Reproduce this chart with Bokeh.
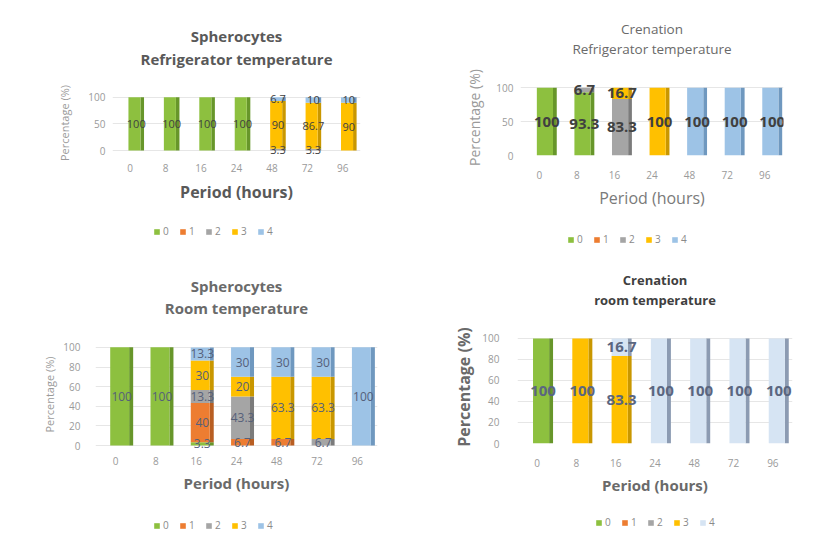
from jinja2 import Template
from bokeh.plotting import figure
from bokeh.models import ColumnDataSource, Range1d, Title, Legend, LegendItem, FactorRange
from bokeh.transform import dodge
from bokeh.core.properties import value
from bokeh.embed import file_html
from bokeh.resources import INLINE

# ---------------- data ----------------
periods = ["0", "8", "16", "24", "48", "72", "96"]
grades = ["0", "1", "2", "3", "4"]
yticks_50 = [0, 50, 100]
yticks_20 = [0, 20, 40, 60, 80, 100]

# Spherocytes - refrigerator temperature
sph_ref_g0 = [100, 100, 100, 100, 0, 0, 0]
sph_ref_g1 = [0, 0, 0, 0, 0, 0, 0]
sph_ref_g2 = [0, 0, 0, 0, 3.3, 3.3, 0]
sph_ref_g3 = [0, 0, 0, 0, 90, 86.7, 90]
sph_ref_g4 = [0, 0, 0, 0, 6.7, 10, 10]

# Crenation - refrigerator temperature
cre_ref_g0 = [100, 93.3, 0, 0, 0, 0, 0]
cre_ref_g1 = [0, 0, 0, 0, 0, 0, 0]
cre_ref_g2 = [0, 6.7, 83.3, 0, 0, 0, 0]
cre_ref_g3 = [0, 0, 16.7, 100, 0, 0, 0]
cre_ref_g4 = [0, 0, 0, 0, 100, 100, 100]

# Spherocytes - room temperature
sph_room_g0 = [100, 100, 3.3, 0, 0, 0, 0]
sph_room_g1 = [0, 0, 40, 6.7, 6.7, 0, 0]
sph_room_g2 = [0, 0, 13.3, 43.3, 0, 6.7, 0]
sph_room_g3 = [0, 0, 30, 20, 63.3, 63.3, 0]
sph_room_g4 = [0, 0, 13.3, 30, 30, 30, 100]

# Crenation - room temperature
cre_room_g0 = [100, 0, 0, 0, 0, 0, 0]
cre_room_g1 = [0, 0, 0, 0, 0, 0, 0]
cre_room_g2 = [0, 0, 0, 0, 0, 0, 0]
cre_room_g3 = [0, 100, 83.3, 0, 0, 0, 0]
cre_room_g4 = [0, 0, 16.7, 100, 100, 100, 100]

FONT = "Open Sans"
colors_a = ["#8DC03F", "#ED7D31", "#A5A5A5", "#FFC000", "#9DC3E6"]
sides_a = ["#67962A", "#B85E22", "#7B7B7B", "#C99700", "#6F98BF"]
colors_b = ["#8DC03F", "#ED7D31", "#A5A5A5", "#FFC000", "#D6E4F3"]
sides_b = ["#67962A", "#B85E22", "#7B7B7B", "#C99700", "#8C9BB2"]


def make_source(series):
    data = {"period": periods}
    for g, vals in zip(grades, series):
        data[g] = vals
    return ColumnDataSource(data)


def make_chart(name, t1, t2, series, yticks, cfg):
    w, h = cfg["w"], cfg["h"]
    p = figure(name=name, x_range=FactorRange(*periods),
               y_range=Range1d(cfg["ymin"], cfg["ymax"]),
               frame_width=cfg["fr"] - cfg["fl"], frame_height=cfg["fb"] - cfg["ft"],
               output_backend="svg", toolbar_location=None, tools="", title=None,
               min_border_left=cfg["fl"], min_border_right=w - cfg["fr"],
               min_border_top=cfg["ft"], min_border_bottom=h - cfg["fb"])
    p.x_range.range_padding = 0
    p.outline_line_color = None
    p.background_fill_color = "white"
    p.border_fill_color = "white"

    spacer = Title(text=" ", text_font_size="1px", standoff=cfg["sp"])
    tt2 = Title(text=t2, align="center", text_font=FONT, text_font_size=cfg["tsize"],
                text_font_style=cfg["tstyle"], text_color=cfg["tcolor"], standoff=cfg["ts2"])
    tt1 = Title(text=t1, align="center", text_font=FONT, text_font_size=cfg["tsize"],
                text_font_style=cfg["tstyle"], text_color=cfg["tcolor"], standoff=0)
    p.add_layout(spacer, "above")
    p.add_layout(tt2, "above")
    p.add_layout(tt1, "above")

    src = make_source(series)
    bw, sw, bo = cfg["bw"], cfg["sw"], cfg["bo"]
    p.vbar_stack(grades, x=dodge("period", bo + bw / 2 + sw / 2, range=p.x_range), width=sw,
                 source=src, color=cfg["sides"], line_color=None)
    p.vbar_stack(grades, x=dodge("period", bo, range=p.x_range), width=bw, source=src,
                 color=cfg["colors"], line_color=None)

    lx, ly, lt = [], [], []
    for i, per in enumerate(periods):
        base = 0.0
        for vals in series:
            v = vals[i]
            if v > 0:
                lx.append(per)
                ly.append(base + v / 2)
                lt.append(f"{v:g}")
            base += v
    lsrc = ColumnDataSource(dict(x=lx, y=ly, text=lt))
    p.text(x=dodge("x", bo + sw / 2, range=p.x_range), y="y", text="text", source=lsrc,
           text_align="center", text_baseline="middle", text_font=value(FONT),
           text_font_size=cfg["lsize"], text_font_style=cfg["lstyle"],
           text_color=cfg["lcolor"])

    p.yaxis.ticker = yticks
    p.yaxis.axis_line_color = None
    p.yaxis.major_tick_line_color = None
    p.yaxis.minor_tick_line_color = None
    p.yaxis.major_label_text_font = FONT
    p.yaxis.major_label_text_font_size = "10px"
    p.yaxis.major_label_text_color = "#9a9a9a"
    p.yaxis.major_label_standoff = cfg["yls"]
    p.yaxis.axis_label = "Percentage (%)"
    p.yaxis.axis_label_text_font = FONT
    p.yaxis.axis_label_text_font_size = cfg["ylsize"]
    p.yaxis.axis_label_text_font_style = cfg["ylstyle"]
    p.yaxis.axis_label_text_color = cfg["ylcolor"]
    p.yaxis.axis_label_standoff = cfg["yas"]

    p.xaxis.axis_line_color = None
    p.xaxis.major_tick_line_color = None
    p.xaxis.minor_tick_line_color = None
    p.xaxis.major_label_text_font = FONT
    p.xaxis.major_label_text_font_size = "10px"
    p.xaxis.major_label_text_color = "#9a9a9a"
    p.xaxis.major_label_standoff = cfg["xls"]
    p.xaxis.axis_label = "Period (hours)"
    p.xaxis.axis_label_text_font = FONT
    p.xaxis.axis_label_text_font_size = cfg["xlsize"]
    p.xaxis.axis_label_text_font_style = cfg["xlstyle"]
    p.xaxis.axis_label_text_color = cfg["xlcolor"]
    p.xaxis.axis_label_standoff = cfg["xas"]

    p.xgrid.grid_line_color = None
    p.ygrid.grid_line_color = "#e6e6e6"
    return p


def make_legend(name, series, cfg):
    L = cfg["L"]
    lf = figure(name=name, x_range=FactorRange(*periods), y_range=Range1d(200, 300),
                width=cfg["w"], height=L, output_backend="svg", toolbar_location=None,
                tools="", title=None, x_axis_location=None, y_axis_location=None,
                min_border=0)
    lf.outline_line_color = None
    lf.xgrid.grid_line_color = None
    lf.ygrid.grid_line_color = None
    lf.border_fill_color = "white"
    src = make_source(series)
    rs = lf.vbar_stack(grades, x="period", width=0.4, source=src,
                       color=cfg["colors"], line_color=None)
    items = [LegendItem(label=g, renderers=[r]) for g, r in zip(grades, rs)]
    leg = Legend(items=items, orientation="horizontal", location=(cfg["lx"], L - 20),
                 glyph_width=7, glyph_height=7, label_width=6, label_height=10,
                 label_text_font=FONT, label_text_font_size="10px",
                 label_text_color="#8a8a8a", label_standoff=3, spacing=10,
                 padding=4, margin=0, border_line_color=None,
                 background_fill_alpha=0)
    lf.add_layout(leg, "center")
    return lf


base = dict(w=414, sw=0.1, lstyle="normal", lcolor="#404040")

c1 = dict(base, h=218, L=40, lx=153, fl=112, fr=360, ft=91, fb=154, ymin=-7.5, ymax=111,
          bw=0.34, bo=0.12,
          tsize="15px", tstyle="bold", tcolor="#595959", sp=18, ts2=3,
          lsize="11px", colors=colors_a, sides=sides_a,
          yls=1, ylsize="11px", ylstyle="normal", ylcolor="#9a9a9a", yas=13,
          xls=3, xlsize="16px", xlstyle="bold", xlcolor="#595959", xas=6)
c2 = dict(base, h=226, L=32, lx=153, fl=106, fr=369, ft=79, fb=155, ymin=0, ymax=112,
          bw=0.43, bo=0.15,
          tsize="13.5px", tstyle="normal", tcolor="#6a6a6a", sp=19, ts2=0,
          lsize="15px", lstyle="bold", colors=colors_a, sides=sides_a,
          yls=1, ylsize="14px", ylstyle="normal", ylcolor="#9a9a9a", yas=9,
          xls=9, xlsize="16px", xlstyle="normal", xlcolor="#7a7a7a", xas=5)
c3 = dict(base, h=254, L=30, lx=153, fl=95, fr=377, ft=81, fb=191, ymin=-4, ymax=108,
          bw=0.47, bo=0.1,
          tsize="15px", tstyle="bold", tcolor="#6a6a6a", sp=19, ts2=0,
          lsize="12px", lcolor="#55607a", colors=colors_a, sides=sides_a,
          yls=9, ylsize="11px", ylstyle="normal", ylcolor="#9a9a9a", yas=3,
          xls=1, xlsize="15px", xlstyle="bold", xlcolor="#6a6a6a", xas=5)
c4 = dict(base, h=251, L=33, lx=181, fl=103, fr=378, ft=72, fb=185, ymin=0, ymax=107.6,
          bw=0.41, bo=0.1,
          tsize="13px", tstyle="bold", tcolor="#404040", sp=19, ts2=0,
          lsize="15px", lstyle="bold", lcolor="#5a6680", colors=colors_b, sides=sides_b,
          yls=12, ylsize="16px", ylstyle="bold", ylcolor="#6a6a6a", yas=4,
          xls=9, xlsize="15px", xlstyle="bold", xlcolor="#6a6a6a", xas=5)

s1 = [sph_ref_g0, sph_ref_g1, sph_ref_g2, sph_ref_g3, sph_ref_g4]
s2 = [cre_ref_g0, cre_ref_g1, cre_ref_g2, cre_ref_g3, cre_ref_g4]
s3 = [sph_room_g0, sph_room_g1, sph_room_g2, sph_room_g3, sph_room_g4]
s4 = [cre_room_g0, cre_room_g1, cre_room_g2, cre_room_g3, cre_room_g4]

p1 = make_chart("c1", "Spherocytes", "Refrigerator temperature", s1, yticks_50, c1)
p2 = make_chart("c2", "Crenation", "Refrigerator temperature", s2, yticks_50, c2)
p3 = make_chart("c3", "Spherocytes", "Room temperature", s3, yticks_20, c3)
p4 = make_chart("c4", "Crenation", "room temperature", s4, yticks_20, c4)
l1 = make_legend("l1", s1, c1)
l2 = make_legend("l2", s2, c2)
l3 = make_legend("l3", s3, c3)
l4 = make_legend("l4", s4, c4)

tmpl = Template("""
{% extends base %}
{% block contents %}
<div style="display:grid;grid-template-columns:414px 414px;grid-template-rows:258px 284px;">
<div><div style="height:218px">{{ embed(roots.c1) }}</div><div>{{ embed(roots.l1) }}</div></div>
<div><div style="height:226px">{{ embed(roots.c2) }}</div><div>{{ embed(roots.l2) }}</div></div>
<div><div style="height:254px">{{ embed(roots.c3) }}</div><div>{{ embed(roots.l3) }}</div></div>
<div><div style="height:251px">{{ embed(roots.c4) }}</div><div>{{ embed(roots.l4) }}</div></div>
</div>
{% endblock %}
""")

p = [p1, p2, p3, p4, l1, l2, l3, l4]
open("out.html", "w").write(file_html(p, INLINE, template=tmpl))
